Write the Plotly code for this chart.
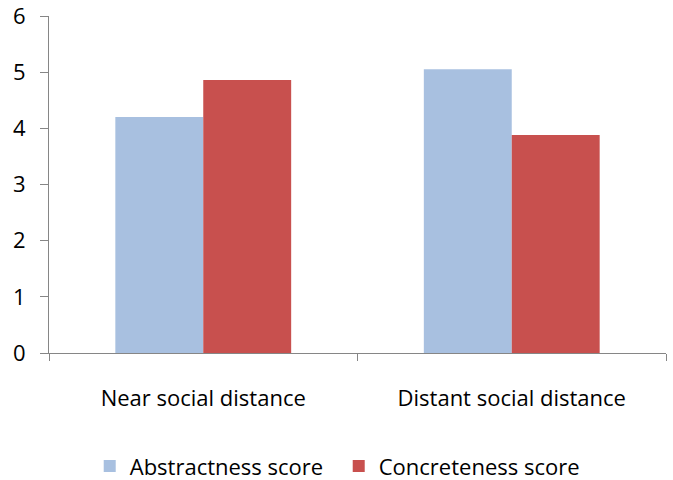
import plotly.graph_objects as go

categories = ["Near social distance", "Distant social distance"]
abstractness = [4.2, 5.05]
concreteness = [4.86, 3.88]
y_ticks = [0, 1, 2, 3, 4, 5, 6]

FONT = "Open Sans"
fig = go.Figure()
fig.add_trace(go.Bar(x=categories, y=abstractness, name="Abstractness score",
                     marker=dict(color="#A8C0E0", line=dict(width=0))))
fig.add_trace(go.Bar(x=categories, y=concreteness, name="Concreteness score",
                     marker=dict(color="#C8504E", line=dict(width=0))))

fig.update_layout(
    width=673, height=480,
    margin=dict(l=49, r=7, t=16, b=126.5, autoexpand=False),
    paper_bgcolor="white", plot_bgcolor="white",
    barmode="group", bargap=0.43, bargroupgap=0,
    font=dict(family=FONT, size=22, color="#000000"),
    showlegend=True,
    legend=dict(orientation="h", x=0.066, xanchor="left", y=-0.336, yanchor="middle",
                font=dict(size=22), entrywidth=204, entrywidthmode="pixels",
                traceorder="normal"),
    xaxis=dict(showline=True, linecolor="#868686", linewidth=1, automargin=False,
               ticks="outside", tickson="boundaries", ticklen=7, tickcolor="#868686",
               ticklabelstandoff=26, showgrid=False, zeroline=False,
               ticklabeloverflow="allow"),
    yaxis=dict(range=[0, 6], tickvals=y_ticks, showline=True, linecolor="#868686", linewidth=1,
               automargin=False, ticklabeloverflow="allow",
               ticks="outside", ticklen=8, tickcolor="#868686", showgrid=False,
               zeroline=False, ticklabelstandoff=10),
)
fig.write_html("out.html", config={"displayModeBar": False},
               post_script="document.body.style.margin='0';")
